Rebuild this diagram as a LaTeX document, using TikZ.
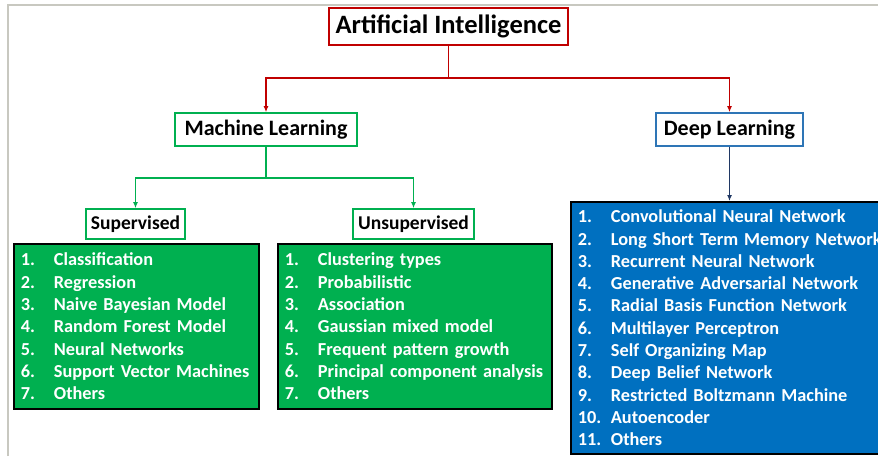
\documentclass[tikz,border=0pt]{standalone}
\usepackage{fontspec}
\setmainfont{Carlito}
\usetikzlibrary{arrows.meta,positioning}
\definecolor{aired}{HTML}{C00000}
\definecolor{mlgreen}{HTML}{00B050}
\definecolor{dlblue}{HTML}{2E75B6}
\definecolor{dlfill}{HTML}{0070C0}
\definecolor{dlnavy}{HTML}{203864}
\definecolor{framegray}{HTML}{C8C8C0}
\newcommand\li[2]{\mbox{\makebox[33pt][l]{#1}#2}}
\begin{document}
\begin{tikzpicture}[x=1pt,y=-1pt,line join=miter,>={Latex[length=6pt,width=5pt]},
  head/.style={draw=#1,line width=1.6pt,fill=white,inner sep=0pt,
    font=\bfseries\fontsize{22}{26}\selectfont},
  subhead/.style={head=mlgreen,font=\bfseries\fontsize{19.5}{23}\selectfont},
  listbox/.style={draw=black,line width=1.8pt,fill=#1,text=white,anchor=north west,
    align=left,inner xsep=7pt,inner ysep=0pt,font=\bfseries\fontsize{18.3}{22.3}\selectfont},
  link/.style={draw=#1,line width=1.5pt}]
  \useasboundingbox (0,0) rectangle (878,456);
  \clip (0,0) rectangle (878,456);
  \draw[framegray,line width=2pt] (7.5,456) -- (7.5,5) -- (878,5);

  \node[head=aired,minimum width=239,minimum height=37,
    font=\bfseries\fontsize{26.5}{30}\selectfont] (ai) at (448.5,26.5) {Artificial Intelligence};
  \node[head=mlgreen,minimum width=182,minimum height=33] (ml) at (266,129.5) {Machine Learning};
  \node[head=dlblue,minimum width=147,minimum height=33] (dl) at (729.5,129.5) {Deep Learning};
  \node[subhead,minimum width=99,minimum height=30] (sup) at (135.5,224) {Supervised};
  \node[subhead,minimum width=121,minimum height=30] (uns) at (413.5,224) {Unsupervised};

  \node[listbox=mlgreen,text width=231,minimum height=165] (supl) at (13,243)
    {\li{1.}{Classification}\\ \li{2.}{Regression}\\ \li{3.}{Naive Bayesian Model}\\
     \li{4.}{Random Forest Model}\\ \li{5.}{Neural Networks}\\
     \li{6.}{Support Vector Machines}\\ \li{7.}{Others}};
  \node[listbox=mlgreen,text width=260,minimum height=165] (unsl) at (277,243)
    {\li{1.}{Clustering types}\\ \li{2.}{Probabilistic}\\ \li{3.}{Association}\\
     \li{4.}{Gaussian mixed model}\\ \li{5.}{Frequent pattern growth}\\
     \li{6.}{Principal component analysis}\\ \li{7.}{Others}};
  \node[listbox=dlfill,text width=316,minimum height=252] (dll) at (570,201)
    {\li{1.}{Convolutional Neural Network}\\ \li{2.}{Long Short Term Memory Network}\\
     \li{3.}{Recurrent Neural Network}\\ \li{4.}{Generative Adversarial Network}\\
     \li{5.}{Radial Basis Function Network}\\ \li{6.}{Multilayer Perceptron}\\
     \li{7.}{Self Organizing Map}\\ \li{8.}{Deep Belief Network}\\
     \li{9.}{Restricted Boltzmann Machine}\\ \li{10.}{Autoencoder}\\ \li{11.}{Others}};

  \coordinate (aisplit) at (448.5,78);
  \coordinate (mlsplit) at (266,178);
  \draw[link=aired] (ai.south) -- (aisplit);
  \draw[link=aired,->] (aisplit) -| (ml.north);
  \draw[link=aired,->] (aisplit) -| (dl.north);
  \draw[link=mlgreen] (ml.south) -- (mlsplit);
  \draw[link=mlgreen,->] (mlsplit) -| (sup.north);
  \draw[link=mlgreen,->] (mlsplit) -| (uns.north);
  \draw[link=dlnavy,->] (dl.south) -- (dl.south |- dll.north);
\end{tikzpicture}
\end{document}
